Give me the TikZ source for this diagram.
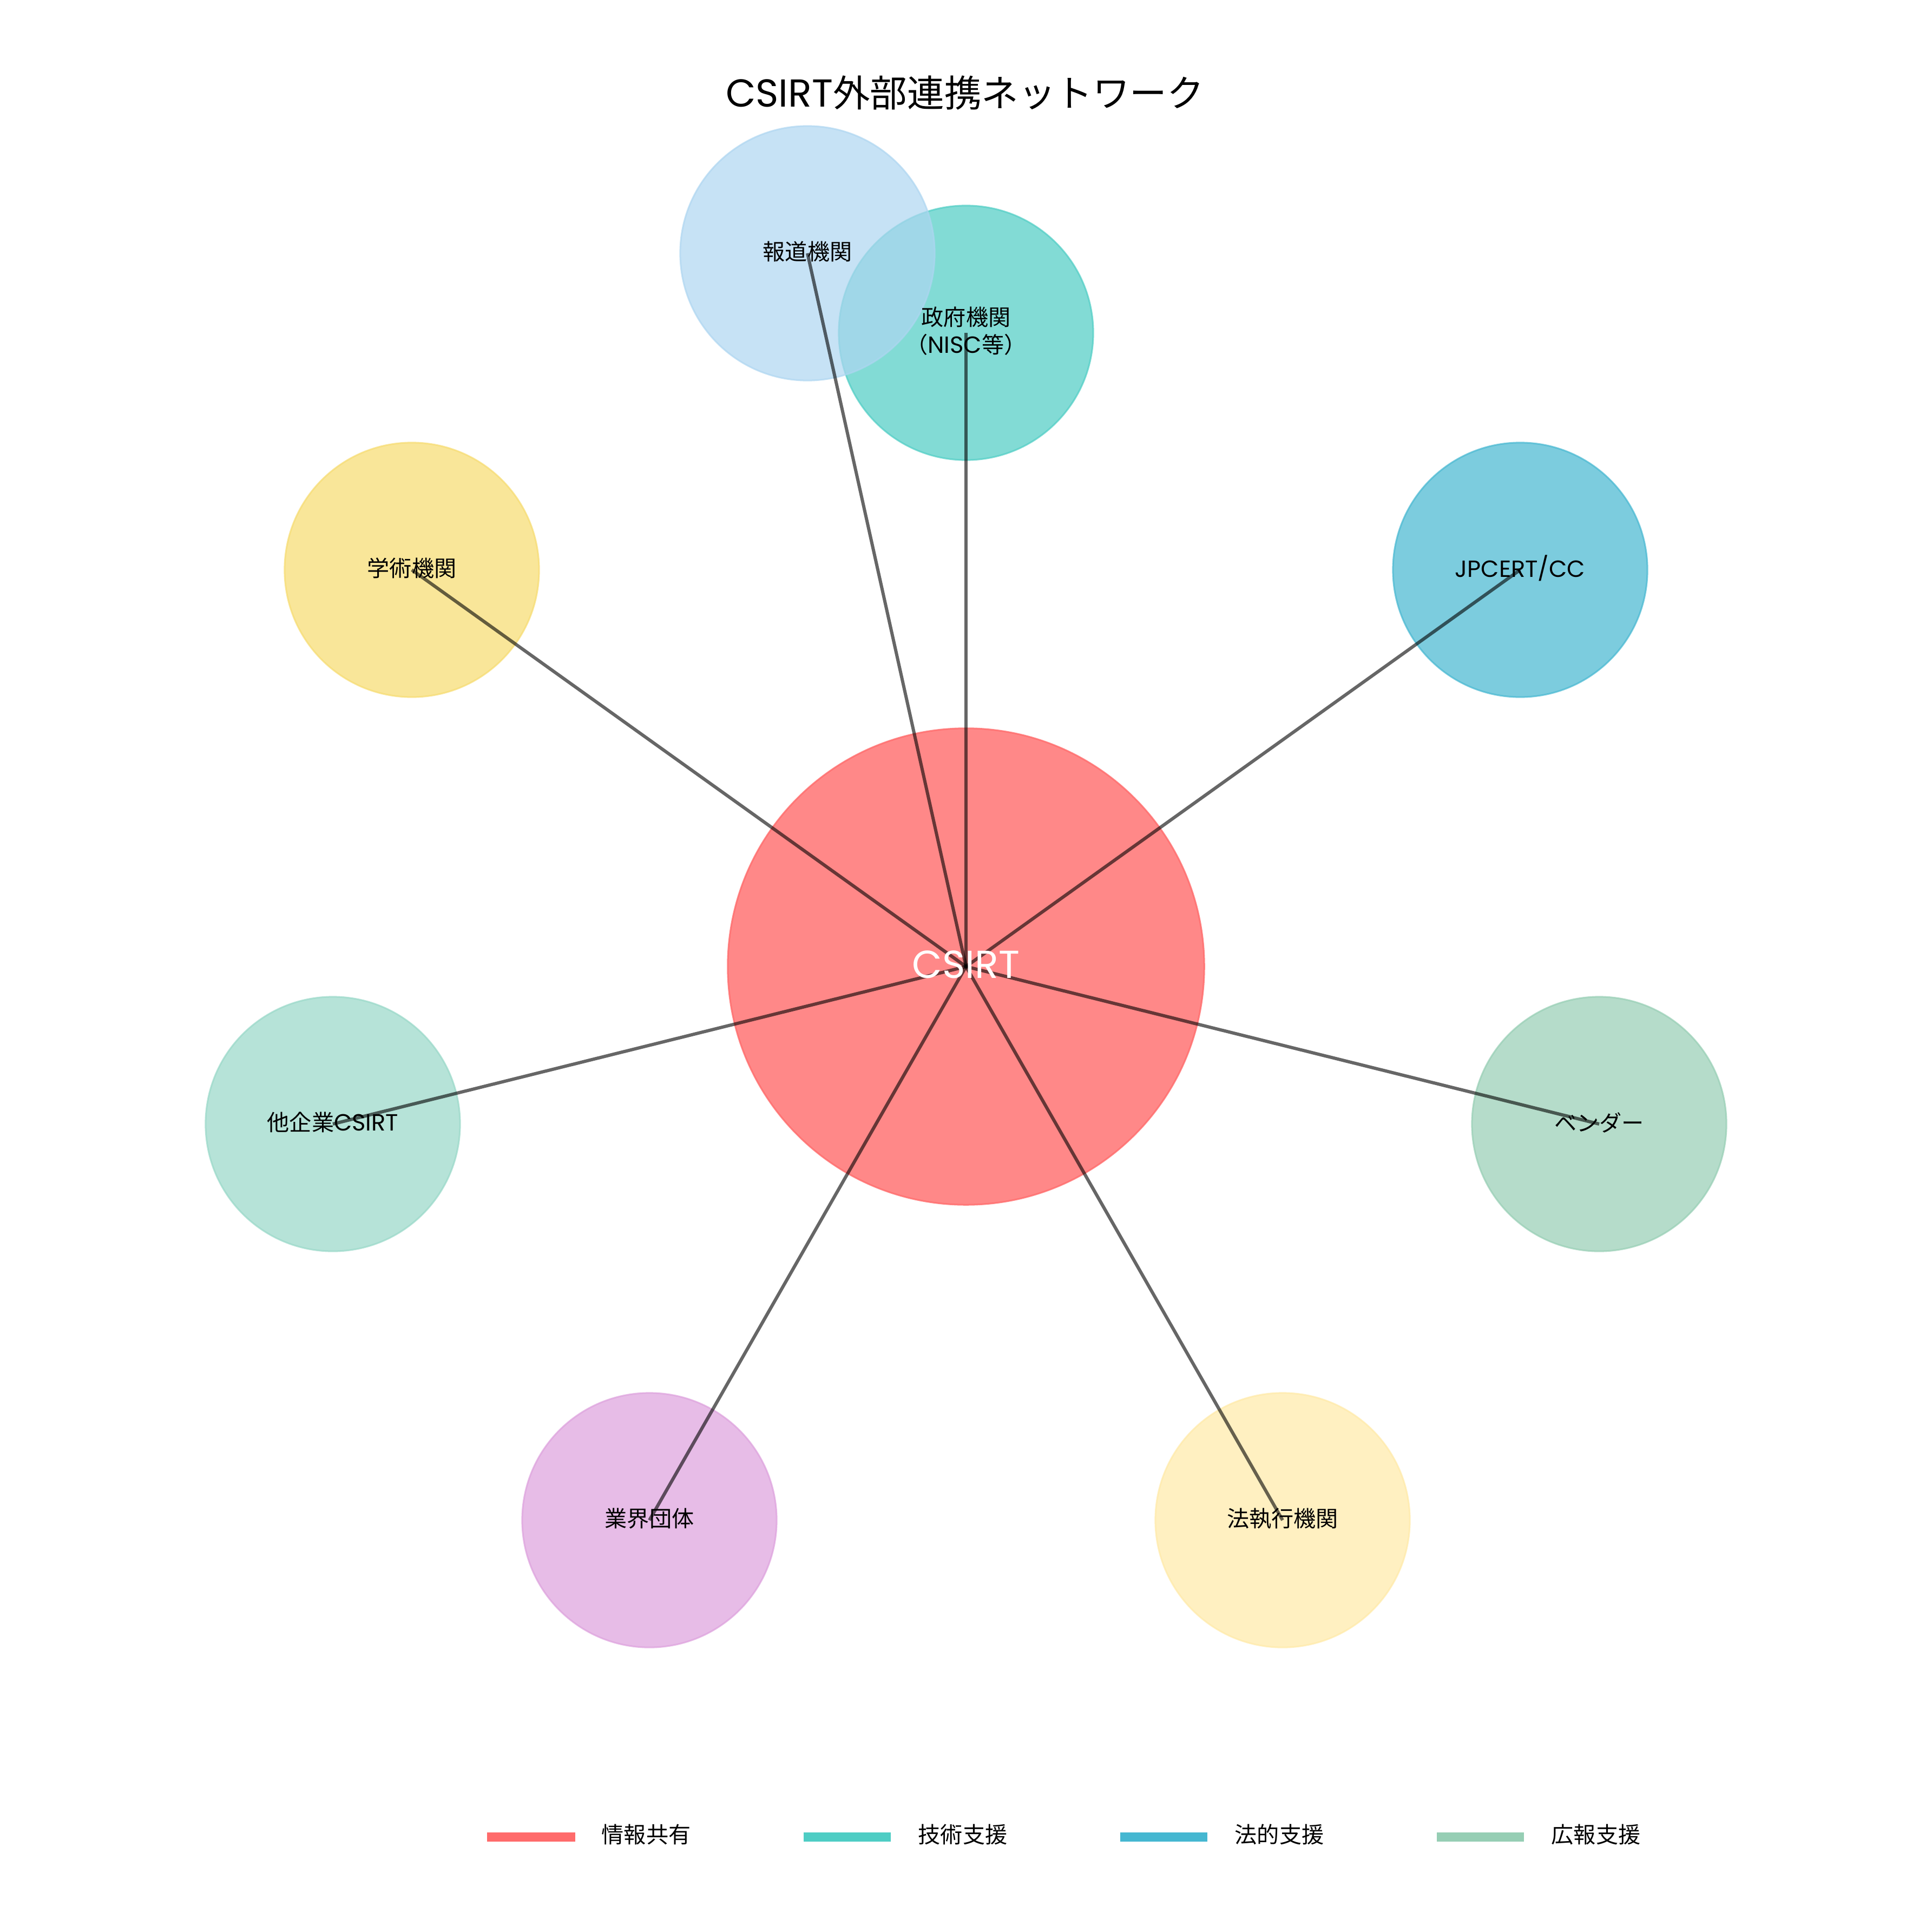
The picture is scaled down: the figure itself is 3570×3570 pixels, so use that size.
\documentclass[tikz,border=0pt]{standalone}
\usepackage{fontspec}
\setmainfont{Noto Sans CJK JP}
\newfontfamily\latn[Scale=1.05]{Poppins}
\definecolor{cCsirt}{HTML}{FF6B6B}
\definecolor{cGov}{HTML}{4ECDC4}
\definecolor{cJp}{HTML}{45B7D1}
\definecolor{cVendor}{HTML}{96CEB4}
\definecolor{cLaw}{HTML}{FFEAA7}
\definecolor{cInd}{HTML}{DDA0DD}
\definecolor{cOther}{HTML}{98D8C8}
\definecolor{cAcad}{HTML}{F7DC6F}
\definecolor{cPress}{HTML}{AED6F1}
\tikzset{
  bubble/.style={circle, minimum size=4.7cm, inner sep=0pt, fill=#1, draw=#1,
    fill opacity=0.7, draw opacity=0.7, line width=0.03cm},
  hub/.style={circle, minimum size=8.8cm, inner sep=0pt, fill=#1, draw=#1,
    fill opacity=0.8, draw opacity=0.8, line width=0.03cm},
  link/.style={black, opacity=0.6, line width=0.06cm},
  lbl/.style={inner sep=0pt, align=center, font=\fontsize{11.7pt}{14.5pt}\selectfont},
  keyline/.style={line width=0.17cm, draw=#1},
  keytext/.style={inner sep=0pt, anchor=west, font=\fontsize{11.7pt}{14pt}\selectfont}
}
\begin{document}
\begin{tikzpicture}[x=0.01cm, y=-0.01cm]
\useasboundingbox[fill=white] (0,0) rectangle (3570,3570);
% title
\node[inner sep=0pt, font=\fontsize{19.5pt}{23pt}\selectfont] (title) at (1783,172) {{\latn CSIRT}外部連携ネットワーク};
% circles
\node[bubble=cGov] (gov) at (1785,615) {};
\node[bubble=cPress] (press) at (1492,468) {};
\node[bubble=cAcad] (acad) at (761,1053) {};
\node[bubble=cJp] (jp) at (2809,1053) {};
\node[bubble=cOther] (other) at (615,2077) {};
\node[bubble=cVendor] (vendor) at (2955,2077) {};
\node[bubble=cInd] (ind) at (1200,2809) {};
\node[bubble=cLaw] (law) at (2370,2809) {};
\node[hub=cCsirt] (csirt) at (1785,1786) {};
% links
\foreach \n in {gov,jp,vendor,law,ind,other,acad,press}
  \draw[link] (csirt.center) -- (\n.center);
% labels
\node[lbl, anchor=base, text=white, font=\fontsize{19.5pt}{23pt}\selectfont\latn] (lcsirt) at (1785,1807) {CSIRT};
\node[lbl] (lpress) at ([yshift=0.85pt]press.center) {報道機関};
\node[lbl] (lgov) at ([yshift=0.85pt]gov.center) {政府機関\\（{\latn NISC}等）};
\node[lbl] (lacad) at ([yshift=0.85pt]acad.center) {学術機関};
\node[lbl, anchor=base, font=\fontsize{11.7pt}{14.5pt}\selectfont\latn] (ljp) at (2809,1066) {JPCERT/CC};
\node[lbl] (lother) at ([yshift=0.85pt]other.center) {他企業{\latn CSIRT}};
\node[lbl] (lvendor) at ([yshift=0.85pt]vendor.center) {ベンダー};
\node[lbl] (lind) at ([yshift=0.85pt]ind.center) {業界団体};
\node[lbl] (llaw) at ([yshift=0.85pt]law.center) {法執行機関};
% legend
\coordinate (k1a) at (900,3394); \coordinate (k1b) at (1063,3394);
\coordinate (k2a) at (1485,3394); \coordinate (k2b) at (1646,3394);
\coordinate (k3a) at (2070,3394); \coordinate (k3b) at (2231,3394);
\coordinate (k4a) at (2655,3394); \coordinate (k4b) at (2816,3394);
\draw[keyline=cCsirt] (k1a) -- (k1b);
\draw[keyline=cGov] (k2a) -- (k2b);
\draw[keyline=cJp] (k3a) -- (k3b);
\draw[keyline=cVendor] (k4a) -- (k4b);
\node[keytext] (t1) at (1111,3390) {情報共有};
\node[keytext] (t2) at (1696,3390) {技術支援};
\node[keytext] (t3) at (2281,3390) {法的支援};
\node[keytext] (t4) at (2866,3390) {広報支援};
\end{tikzpicture}
\end{document}
